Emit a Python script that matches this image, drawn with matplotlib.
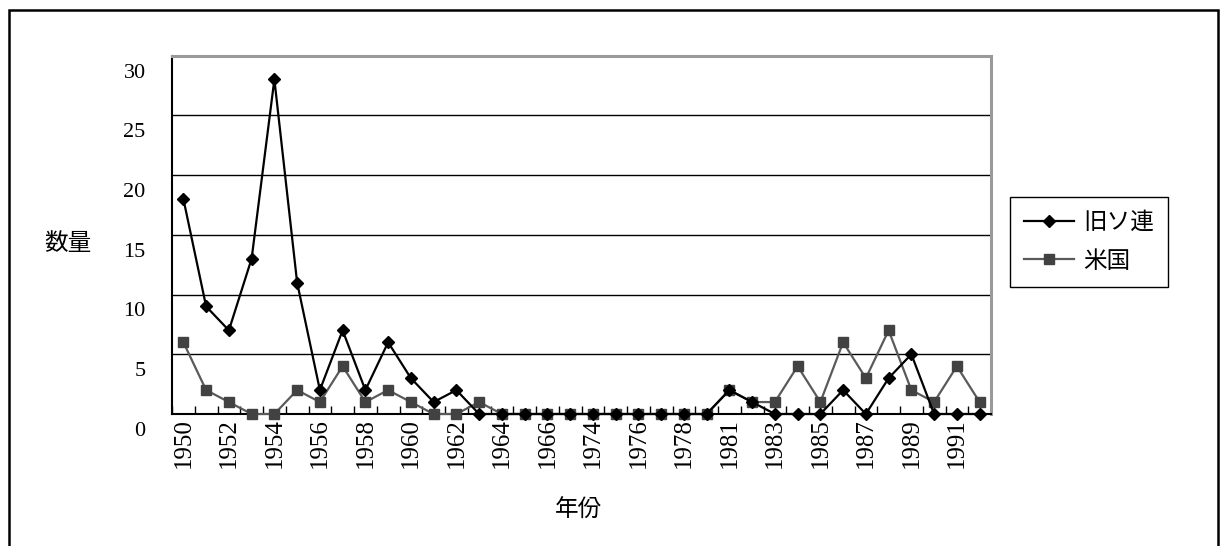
"""Nuclear tests per year: former USSR vs USA (category axis, Excel style)."""
import numpy as np
import matplotlib
matplotlib.use("Agg")
import matplotlib.pyplot as plt
from matplotlib.patches import Rectangle
from matplotlib.transforms import ScaledTranslation

SERIF = "Liberation Serif"
CJK = ["Noto Sans CJK JP", "DejaVu Sans"]

# categories (two hidden labels between 1966/1974 and 1978/1981)
years = ["1950", "1951", "1952", "1953", "1954", "1955", "1956", "1957", "1958",
         "1959", "1960", "1961", "1962", "1963", "1964", "1965", "1966", "1970",
         "1974", "1975", "1976", "1977", "1978", "1980", "1981", "1982", "1983",
         "1984", "1985", "1986", "1987", "1988", "1989", "1990", "1991", "1992"]
ussr = [18, 9, 7, 13, 28, 11, 2, 7, 2, 6, 3, 1, 2, 0, 0, 0, 0, 0,
        0, 0, 0, 0, 0, 0, 2, 1, 0, 0, 0, 2, 0, 3, 5, 0, 0, 0]
usa = [6, 2, 1, 0, 0, 2, 1, 4, 1, 2, 1, 0, 0, 1, 0, 0, 0, 0,
       0, 0, 0, 0, 0, 0, 2, 1, 1, 4, 1, 6, 3, 7, 2, 1, 4, 1]
yticks = [0, 5, 10, 15, 20, 25, 30]

W, H = 1221, 546
fig = plt.figure(figsize=(W / 100, H / 100), dpi=100)
ax = fig.add_axes([172 / W, 1 - 414 / H, (991 - 172) / W, (414 - 55.5) / H])

x = np.arange(len(years))
ax.plot(x, ussr, color="black", lw=1.6, marker="D", ms=6.3, mfc="black", mec="black",
        label="旧ソ連", zorder=4, clip_on=False)
ax.plot(x, usa, color="#5a5a5a", lw=1.6, marker="s", ms=7.5, mfc="#424242", mec="#424242",
        label="米国", zorder=3, clip_on=False)

ax.set_xlim(-0.5, len(years) - 0.5)
ax.set_ylim(0, 30)
ax.set_yticks(yticks)
ax.set_yticklabels([str(v) for v in yticks], fontfamily=SERIF, fontsize=16)
ax.set_xticks(x[::2])
ax.set_xticklabels(years[::2], rotation=90, fontfamily=SERIF, fontsize=18)
ax.set_xticks(np.arange(-0.5, len(years)), minor=True)
ax.tick_params(axis="x", which="major", length=0, pad=3)
ax.tick_params(axis="x", which="minor", direction="in", length=5.8, width=1, color="black")
ax.tick_params(axis="y", length=0, pad=19)

ax.set_axisbelow(True)
ax.yaxis.grid(True, color="black", lw=1)
for s in ("left", "bottom"):
    ax.spines[s].set_color("black")
    ax.spines[s].set_linewidth(1.5)
for s in ("top", "right"):
    ax.spines[s].set_color("#9a9a9a")
    ax.spines[s].set_linewidth(2.2)

# Excel puts the value labels a bit below their gridline
off = ScaledTranslation(0, -0.15, fig.dpi_scale_trans)
for lab in ax.get_yticklabels():
    lab.set_transform(lab.get_transform() + off)

fig.text(68 / W, 1 - 243 / H, "数量", ha="center", va="center", fontsize=17, family=CJK)
fig.text(578 / W, 1 - 510 / H, "年份", ha="center", va="center", fontsize=17, family=CJK)

leg = ax.legend(loc="upper left", bbox_to_anchor=(1010 / W, 1 - 197 / H),
                bbox_transform=fig.transFigure, prop={"family": CJK, "size": 17},
                frameon=True, fancybox=False, framealpha=1, edgecolor="black",
                borderpad=0.6, labelspacing=0.65, handlelength=2.1, handletextpad=0.4,
                borderaxespad=0)
leg.get_frame().set_linewidth(1)

# outer chart-area frame (bottom edge lies outside the picture)
fig.add_artist(Rectangle((8.5 / W, -0.05), (1218 - 8.5) / W, 1 - 9.5 / H + 0.05,
                         transform=fig.transFigure, fill=False, ec="black", lw=1.8))

fig.savefig("out.png", dpi=100)
